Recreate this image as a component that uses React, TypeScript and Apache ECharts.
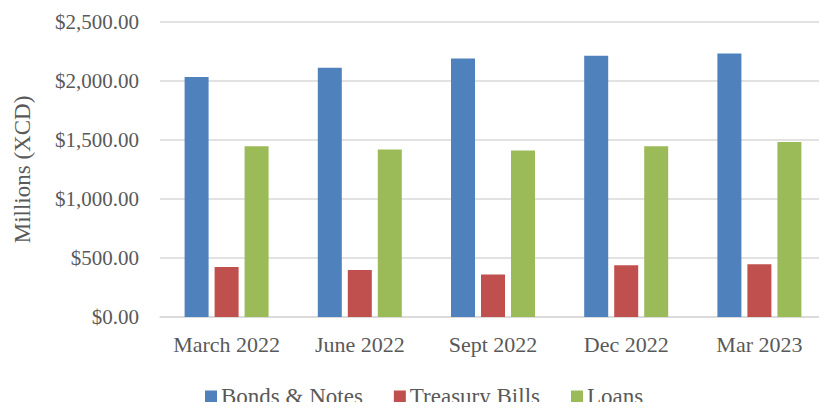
import React, { useEffect, useRef } from "react";
import * as echarts from "echarts";

const categories = ["March 2022", "June 2022", "Sept 2022", "Dec 2022", "Mar 2023"];
const bondsNotes = [2033, 2112, 2191, 2213, 2233];
const treasuryBills = [424, 398, 361, 438, 446];
const loans = [1448, 1420, 1412, 1446, 1482];
const seriesNames = ["Bonds & Notes", "Treasury Bills", "Loans"];
const colors = ["#4F81BD", "#C0504D", "#9BBB59"];

const FONT = "'Liberation Serif', serif";
const TEXT = "#595959";

export default function App() {
  const ref = useRef<HTMLDivElement>(null);
  useEffect(() => {
    if (!ref.current) return;
    const chart = echarts.init(ref.current, undefined, { renderer: "svg" });
    const data = [bondsNotes, treasuryBills, loans];
    chart.setOption({
      animation: false,
      textStyle: { fontFamily: FONT, color: TEXT },
      grid: { left: 160, right: 1, top: 22, bottom: 93 },
      legend: {
        data: seriesNames,
        left: 200,
        top: 380,
        icon: "rect",
        itemWidth: 12,
        itemHeight: 12,
        itemGap: 31,
        textStyle: { fontFamily: FONT, fontSize: 23, color: TEXT, padding: [0, 0, 0, -1] },
      },
      xAxis: {
        type: "category",
        data: categories,
        axisLine: { lineStyle: { color: "#d9d9d9", width: 1.5 } },
        axisTick: { show: false },
        axisLabel: { fontFamily: FONT, fontSize: 22, color: TEXT, margin: 16, interval: 0 },
      },
      yAxis: {
        type: "value",
        min: 0,
        max: 2500,
        interval: 500,
        name: "Millions (XCD)",
        nameLocation: "middle",
        nameGap: 126,
        nameTextStyle: { fontFamily: FONT, fontSize: 23, color: TEXT },
        axisLine: { show: false },
        axisTick: { show: false },
        splitLine: { lineStyle: { color: "#d9d9d9", width: 1.5 } },
        axisLabel: {
          fontFamily: FONT,
          fontSize: 21,
          color: TEXT,
          margin: 21,
          formatter: (v: number) =>
            "$" + v.toLocaleString("en-US", { minimumFractionDigits: 2, maximumFractionDigits: 2 }),
        },
      },
      series: seriesNames.map((name, i) => ({
        name,
        type: "bar",
        data: data[i],
        barWidth: 24,
        barGap: "25%",
        itemStyle: { color: colors[i] },
      })),
    });
    return () => chart.dispose();
  }, []);
  return <div ref={ref} style={{ width: 827, height: 410, margin: -8 }} />;
}
